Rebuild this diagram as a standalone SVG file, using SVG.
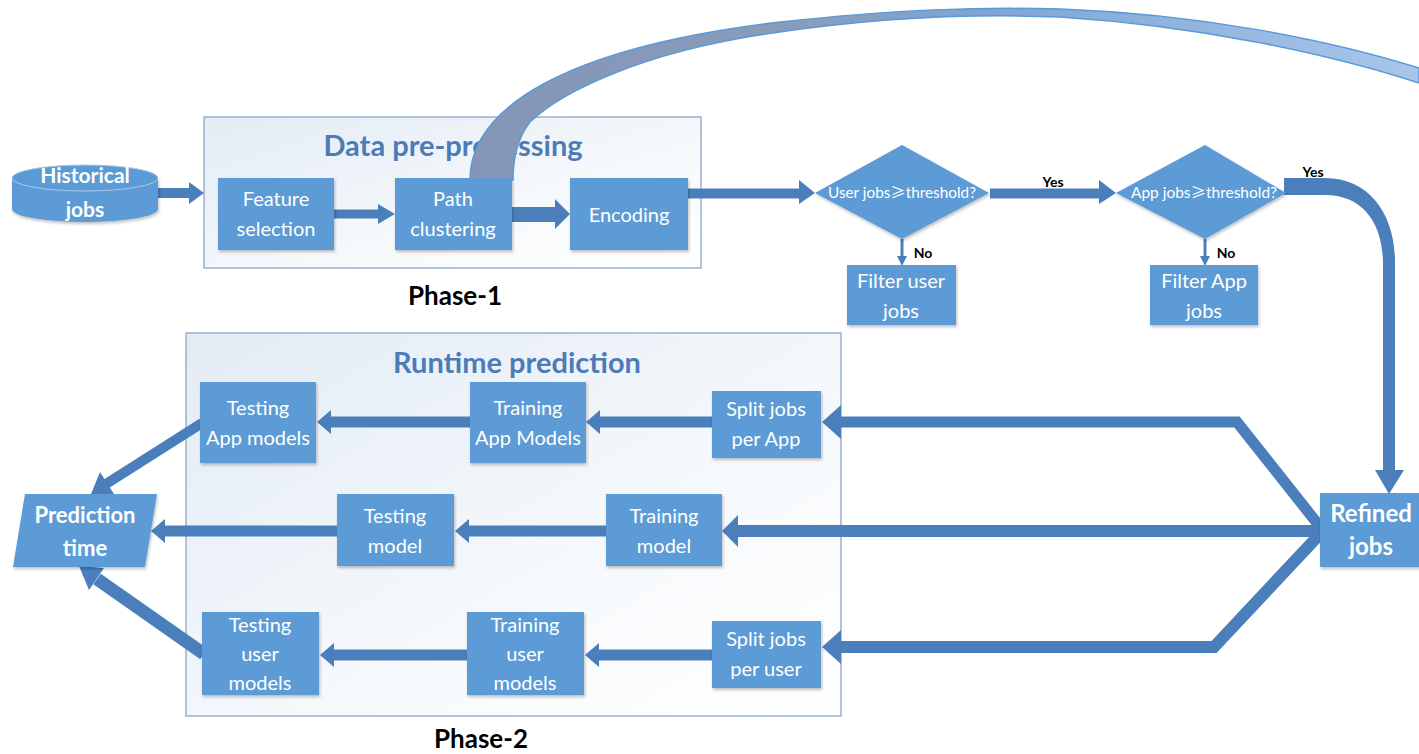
<svg xmlns="http://www.w3.org/2000/svg" width="1419" height="754" viewBox="0 0 1419 754">
  <defs>
    <linearGradient id="panelGrad" x1="0" y1="0" x2="1" y2="1">
      <stop offset="0" stop-color="#e3ebf5"/>
      <stop offset="0.6" stop-color="#f6f9fc"/>
      <stop offset="1" stop-color="#ffffff"/>
    </linearGradient>
    <linearGradient id="curveGrad" gradientUnits="userSpaceOnUse" x1="470" y1="0" x2="1419" y2="0">
      <stop offset="0" stop-color="#8396b6"/>
      <stop offset="0.35" stop-color="#8a9cbc"/>
      <stop offset="0.55" stop-color="#7ea6d6"/>
      <stop offset="1" stop-color="#a9c6ea"/>
    </linearGradient>
    <filter id="shadow" x="-10%" y="-10%" width="125%" height="130%">
      <feDropShadow dx="1" dy="2" stdDeviation="1.5" flood-color="#000" flood-opacity="0.25"/>
    </filter>
    <style>
      .box { fill: #5b9bd5; filter: url(#shadow); }
      .panel { fill: url(#panelGrad); stroke: #8ba6c7; stroke-width: 1.3; }
      .arr { fill: #4a7fbc; }
      .band { fill: none; stroke: #4a7fbc; stroke-linejoin: miter; }
      .bt { font-family: Lato, "Open Sans", "Liberation Sans", sans-serif; font-size: 20px; fill: #ffffff; text-anchor: middle; }
      .bb { font-family: Lato, "Open Sans", "Liberation Sans", sans-serif; font-size: 24px; font-weight: bold; fill: #ffffff; text-anchor: middle; }
      .dt { font-family: Lato, "Open Sans", "Liberation Sans", "Noto Sans CJK SC", sans-serif; font-size: 15px; fill: #ffffff; text-anchor: middle; }
      .title { font-family: Lato, "Open Sans", "Liberation Sans", sans-serif; font-size: 29px; font-weight: bold; fill: #4b7cb8; text-anchor: middle; }
      .phase { font-family: Lato, "Open Sans", "Liberation Sans", sans-serif; font-size: 26px; font-weight: bold; fill: #000000; text-anchor: middle; }
      .lbl { font-family: Lato, "Open Sans", "Liberation Sans", sans-serif; font-size: 14px; font-weight: bold; fill: #000000; text-anchor: middle; }
    </style>
  </defs>

  <rect width="1419" height="754" fill="#ffffff"/>

  <!-- Phase 1 container -->
  <g id="phase1">
    <rect class="panel" x="204" y="117" width="497" height="151"/>
    <text class="title" x="453" y="156">Data pre-processing</text>
    <text class="phase" x="455" y="305">Phase-1</text>
  </g>

  <!-- Phase 2 container -->
  <g id="phase2">
    <rect class="panel" x="186" y="333" width="655" height="383"/>
    <text class="title" x="517" y="373">Runtime prediction</text>
    <text class="phase" x="481" y="748">Phase-2</text>
  </g>

  <!-- Connectors -->
  <g id="connectors">
    <!-- big feedback curve from Path clustering -->
    <path d="M470,180 C470,110 560,48 780,22 C900,9 980,7 1060,9 C1200,14 1330,40 1419,68 L1419,83 C1330,54 1200,26 1060,17 C960,13 860,20 773,33 C640,52 560,93 530,122 C516,140 513,160 513,180 Z" fill="url(#curveGrad)" stroke="#5b9bd5" stroke-width="1.5"/>

    <!-- Historical jobs -> Feature selection -->
    <polygon class="arr" points="157,188 189,188 189,182 204,193 189,204 189,198 157,198"/>
    <!-- Feature selection -> Path clustering -->
    <polygon class="arr" points="333,209.5 378,209.5 378,204 395,214 378,224 378,218.5 333,218.5"/>
    <!-- Path clustering -> Encoding -->
    <polygon class="arr" points="512,207 555,207 555,199 570,214 555,229 555,222 512,222"/>
    <!-- Encoding -> User decision -->
    <polygon class="arr" points="688,188.5 799,188.5 799,180 815,193 799,204 799,198.5 688,198.5"/>
    <!-- User decision -> App decision (Yes) -->
    <polygon class="arr" points="990,188.5 1099,188.5 1099,180 1116,193 1099,204 1099,198.5 990,198.5"/>
    <text class="lbl" x="1053" y="187">Yes</text>
    <!-- No arrows -->
    <line x1="902" y1="239" x2="902" y2="258" stroke="#4a7fbc" stroke-width="3"/>
    <polygon class="arr" points="897,256 907,256 902,266"/>
    <text class="lbl" x="923" y="258">No</text>
    <line x1="1205" y1="239" x2="1205" y2="258" stroke="#4a7fbc" stroke-width="3"/>
    <polygon class="arr" points="1200,256 1210,256 1205,266"/>
    <text class="lbl" x="1226" y="258">No</text>
    <!-- App decision -> Refined jobs (Yes) -->
    <path class="arr" d="M1284,178 L1325,178 C1370,178 1395,215 1395,262 L1395,472 L1383,472 L1383,264 C1383,222 1362,195 1325,195 L1284,195 Z"/>
    <polygon class="arr" points="1375,470 1404,470 1389,494"/>
    <text class="lbl" x="1313" y="177">Yes</text>

    <!-- Refined -> Split jobs per App -->
    <polyline class="band" stroke-width="11" points="1321,528 1237,422 838,422"/>
    <polygon class="arr" points="841,405 841,439 822,422"/>
    <!-- Refined -> Training model -->
    <line x1="1321" y1="531" x2="735" y2="531" stroke="#4a7fbc" stroke-width="12"/>
    <polygon class="arr" points="738,515 738,547 722,531"/>
    <!-- Refined -> Split jobs per user -->
    <polyline class="band" stroke-width="12" points="1321,533 1214,647 838,647"/>
    <polygon class="arr" points="841,630 841,664 822,647"/>

    <!-- Split per App -> Training App Models -->
    <polygon class="arr" points="712,416.5 600,416.5 600,410 586,422 600,434 600,427.5 712,427.5"/>
    <!-- Training App Models -> Testing App models -->
    <polygon class="arr" points="470,416.5 331,416.5 331,410 317,422 331,434 331,427.5 470,427.5"/>
    <!-- Training model -> Testing model -->
    <polygon class="arr" points="606,525.5 469,525.5 469,519 455,531 469,543 469,536.5 606,536.5"/>
    <!-- Testing model -> Prediction time -->
    <polygon class="arr" points="337,525.5 165,525.5 165,519 151,531 165,543 165,536.5 337,536.5"/>
    <!-- Split per user -> Training user models -->
    <polygon class="arr" points="712,649.5 599,649.5 599,643 585,655 599,667 599,660.5 712,660.5"/>
    <!-- Training user models -> Testing user models -->
    <polygon class="arr" points="468,649.5 334,649.5 334,643 320,655 334,667 334,660.5 468,660.5"/>
    <!-- Testing App models -> Prediction time -->
    <line x1="202" y1="423" x2="106" y2="484" stroke="#4a7fbc" stroke-width="10"/>
    <polygon class="arr" points="114,494 100,472 91,494"/>
    <!-- Testing user models -> Prediction time -->
    <line x1="204" y1="654" x2="97" y2="579" stroke="#4a7fbc" stroke-width="13"/>
    <polygon class="arr" points="104,568 89,590 79,566"/>
  </g>

  <!-- Nodes -->
  <g id="historical-jobs">
    <path d="M12,178 L12,209 A73,13 0 0 0 158,209 L158,178 Z" fill="#5b9bd5" filter="url(#shadow)"/>
    <ellipse cx="85" cy="178" rx="73" ry="13" fill="#5b9bd5" stroke="#a8c7ea" stroke-width="1"/>
    <text class="bb" x="85" y="183" style="font-size:21px">Historical</text>
    <text class="bb" x="85" y="217" style="font-size:21px">jobs</text>
  </g>

  <g id="feature-selection">
    <rect class="box" x="218" y="178" width="116" height="72"/>
    <text class="bt" x="276" y="206">Feature</text>
    <text class="bt" x="276" y="236">selection</text>
  </g>
  <g id="path-clustering">
    <rect class="box" x="395" y="178" width="117" height="72"/>
    <text class="bt" x="453" y="206">Path</text>
    <text class="bt" x="453" y="236">clustering</text>
  </g>
  <g id="encoding">
    <rect class="box" x="570" y="178" width="118" height="72"/>
    <text class="bt" x="629" y="222">Encoding</text>
  </g>

  <g id="user-threshold">
    <polygon class="box" points="815,193 902,145 989,193 902,239"/>
    <text class="dt" x="902" y="198" textLength="148" lengthAdjust="spacingAndGlyphs">User jobs<tspan font-family="'Noto Sans CJK SC', sans-serif">≥</tspan>threshold?</text>
  </g>
  <g id="app-threshold">
    <polygon class="box" points="1116,193 1205,145 1286,193 1205,239"/>
    <text class="dt" x="1204" y="198" textLength="146" lengthAdjust="spacingAndGlyphs">App jobs<tspan font-family="'Noto Sans CJK SC', sans-serif">≥</tspan>threshold?</text>
  </g>

  <g id="filter-user-jobs">
    <rect class="box" x="847" y="265" width="109" height="60"/>
    <text class="bt" x="901" y="288">Filter user</text>
    <text class="bt" x="901" y="318">jobs</text>
  </g>
  <g id="filter-app-jobs">
    <rect class="box" x="1150" y="265" width="108" height="60"/>
    <text class="bt" x="1204" y="288">Filter App</text>
    <text class="bt" x="1204" y="318">jobs</text>
  </g>

  <g id="refined-jobs">
    <rect class="box" x="1320" y="493" width="104" height="74"/>
    <text class="bb" x="1371" y="522">Refined</text>
    <text class="bb" x="1371" y="555">jobs</text>
  </g>

  <g id="split-app">
    <rect class="box" x="712" y="391" width="109" height="67"/>
    <text class="bt" x="766" y="416">Split jobs</text>
    <text class="bt" x="766" y="446">per App</text>
  </g>
  <g id="training-app">
    <rect class="box" x="470" y="382" width="116" height="81"/>
    <text class="bt" x="528" y="415">Training</text>
    <text class="bt" x="528" y="445">App Models</text>
  </g>
  <g id="testing-app">
    <rect class="box" x="200" y="382" width="116" height="81"/>
    <text class="bt" x="258" y="415">Testing</text>
    <text class="bt" x="258" y="445">App models</text>
  </g>

  <g id="training-model">
    <rect class="box" x="606" y="494" width="116" height="72"/>
    <text class="bt" x="664" y="523">Training</text>
    <text class="bt" x="664" y="553">model</text>
  </g>
  <g id="testing-model">
    <rect class="box" x="337" y="494" width="117" height="72"/>
    <text class="bt" x="395" y="523">Testing</text>
    <text class="bt" x="395" y="553">model</text>
  </g>

  <g id="split-user">
    <rect class="box" x="712" y="621" width="109" height="67"/>
    <text class="bt" x="766" y="646">Split jobs</text>
    <text class="bt" x="766" y="676">per user</text>
  </g>
  <g id="training-user">
    <rect class="box" x="467" y="612" width="117" height="83"/>
    <text class="bt" x="525" y="632">Training</text>
    <text class="bt" x="525" y="661">user</text>
    <text class="bt" x="525" y="690">models</text>
  </g>
  <g id="testing-user">
    <rect class="box" x="202" y="612" width="117" height="83"/>
    <text class="bt" x="260" y="632">Testing</text>
    <text class="bt" x="260" y="661">user</text>
    <text class="bt" x="260" y="690">models</text>
  </g>

  <g id="prediction-time">
    <polygon class="box" points="25,494 157,494 145,567 13,567"/>
    <text class="bb" x="85" y="523" style="font-size:22px">Prediction</text>
    <text class="bb" x="85" y="556" style="font-size:22px">time</text>
  </g>
</svg>
